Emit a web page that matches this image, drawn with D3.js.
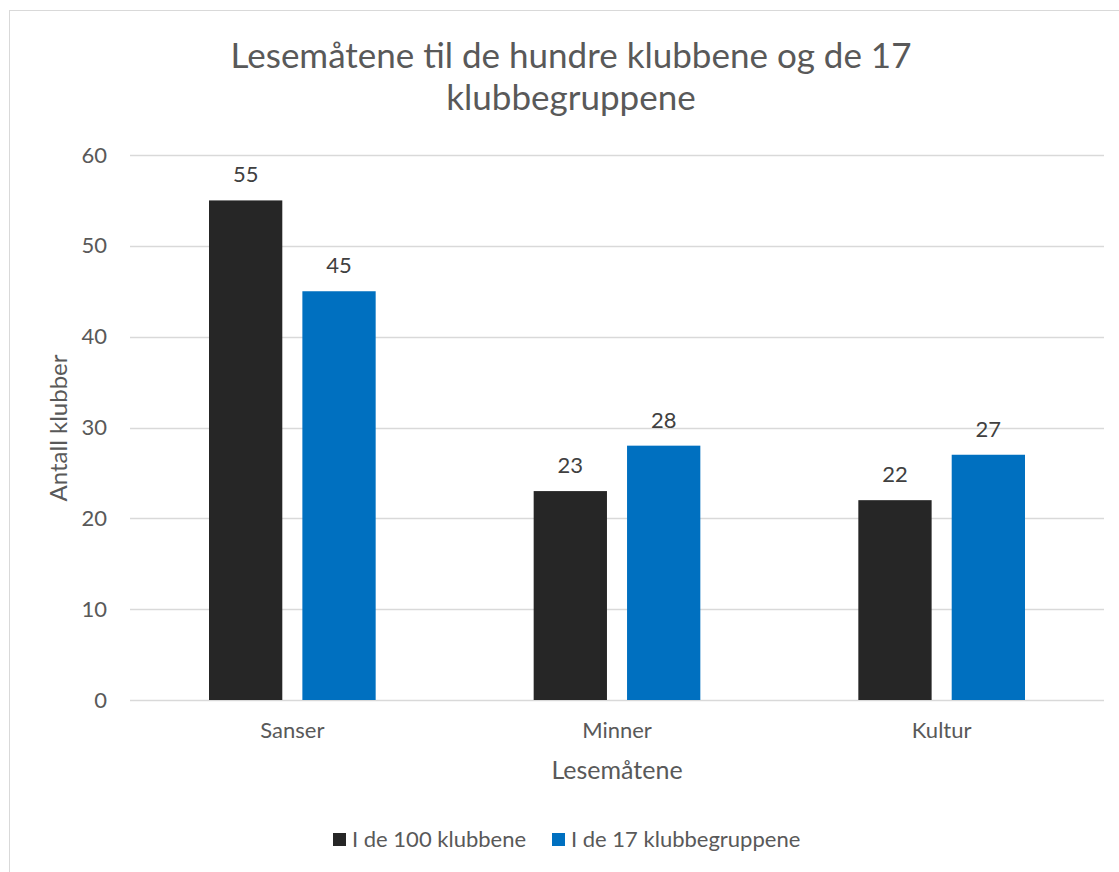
<!DOCTYPE html>
<html>
<head>
<meta charset="utf-8">
<script src="https://cdn.jsdelivr.net/npm/d3@7"></script>
<style>
  html, body { margin: 0; padding: 0; background: #fff; }
  svg { display: block; font-family: Lato, "Open Sans", sans-serif; }
</style>
</head>
<body>
<svg id="chart" width="1119" height="872"></svg>
<script>
// Reading modes by category, counted in two groups of clubs
const categories = ["Sanser", "Minner", "Kultur"];
const seriesNames = ["I de 100 klubbene", "I de 17 klubbegruppene"];
const clubs100 = [55, 23, 22];
const clubGroups17 = [45, 28, 27];
const yTicks = [0, 10, 20, 30, 40, 50, 60];
const titleLines = ["Lesemåtene til de hundre klubbene og de 17", "klubbegruppene"];
const colors = ["#262626", "#0070C0"];

const seriesValues = [clubs100, clubGroups17];
const rows = categories.map((c, i) => ({
  category: c,
  values: seriesNames.map((s, j) => ({ series: s, value: seriesValues[j][i], idx: j }))
}));

const svg = d3.select("#chart");
const plot = { left: 130, right: 1104, top: 155, bottom: 700 };
const font = "Lato, 'Open Sans', sans-serif";

// Chart frame
svg.append("rect")
  .attr("x", 9.5).attr("y", 10.5)
  .attr("width", 1140).attr("height", 900)
  .attr("fill", "#fff").attr("stroke", "#d9d9d9").attr("stroke-width", 1);

const y = d3.scaleLinear().domain([0, 60]).range([plot.bottom, plot.top]);
const x0 = d3.scaleBand().domain(categories).range([plot.left, plot.right]).padding(0);
const inset = 79;
const x1 = d3.scaleBand().domain(seriesNames)
  .range([inset, x0.bandwidth() - inset]).paddingInner(0.215).paddingOuter(0);

// Gridlines
svg.append("g")
  .selectAll("line").data(yTicks).join("line")
  .attr("x1", plot.left).attr("x2", plot.right)
  .attr("y1", d => Math.round(y(d)) + 0.5).attr("y2", d => Math.round(y(d)) + 0.5)
  .attr("stroke", "#d9d9d9").attr("stroke-width", 1.3);

// Y axis tick labels
const yAxis = d3.axisLeft(y).tickValues(yTicks).tickSize(0).tickPadding(0);
const gy = svg.append("g").attr("transform", `translate(${plot.left - 23},0)`).call(yAxis);
gy.select(".domain").remove();
gy.selectAll("text").attr("fill", "#595959").style("font-size", "22px").style("font-family", font);

// X axis category labels
const xAxis = d3.axisBottom(x0).tickSize(0).tickPadding(0);
const gx = svg.append("g").attr("transform", `translate(0,${plot.bottom + 22})`).call(xAxis);
gx.select(".domain").remove();
gx.selectAll("text").attr("fill", "#595959").style("font-size", "22px").style("font-family", font);

// Bars
const groups = svg.append("g").selectAll("g").data(rows).join("g")
  .attr("transform", d => `translate(${x0(d.category)},0)`);

groups.selectAll("rect").data(d => d.values).join("rect")
  .attr("x", d => x1(d.series))
  .attr("y", d => y(d.value))
  .attr("width", x1.bandwidth())
  .attr("height", d => y(0) - y(d.value))
  .attr("fill", d => colors[d.idx]);

// Value labels above bars
groups.selectAll("text.val").data(d => d.values).join("text")
  .attr("class", "val")
  .attr("x", d => x1(d.series) + x1.bandwidth() / 2)
  .attr("y", d => y(d.value) - 18)
  .attr("text-anchor", "middle")
  .attr("fill", "#404040")
  .style("font-size", "22px")
  .text(d => d.value);

// Title
svg.append("text")
  .attr("text-anchor", "middle")
  .attr("fill", "#595959").style("font-size", "35px")
  .selectAll("tspan").data(titleLines).join("tspan")
  .attr("x", 571).attr("y", (d, i) => 68 + i * 42)
  .text(d => d);

// Axis titles
svg.append("text")
  .attr("transform", "translate(67,428) rotate(-90)")
  .attr("text-anchor", "middle").attr("fill", "#595959")
  .style("font-size", "24px").text("Antall klubber");

svg.append("text")
  .attr("x", (plot.left + plot.right) / 2).attr("y", 779)
  .attr("text-anchor", "middle").attr("fill", "#595959")
  .style("font-size", "25px").text("Lesemåtene");

// Legend
const legendX = [333, 552];
const legend = svg.append("g").selectAll("g").data(seriesNames).join("g")
  .attr("transform", (d, i) => `translate(${legendX[i]},833)`);
legend.append("rect").attr("width", 13).attr("height", 13)
  .attr("fill", (d, i) => colors[i]);
legend.append("text").attr("x", 19).attr("y", 14)
  .attr("fill", "#595959").style("font-size", "22px").text(d => d);
</script>
</body>
</html>
